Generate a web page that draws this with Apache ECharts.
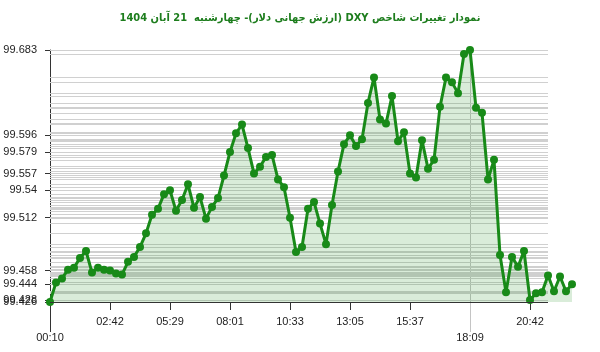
<!DOCTYPE html>
<html>
<head>
<meta charset="utf-8">
<script src="https://cdn.jsdelivr.net/npm/echarts@6/dist/echarts.min.js"></script>
<style>html,body{margin:0;padding:0;background:#fff}#c{width:600px;height:352px}</style>
</head>
<body>
<div id="c" dir="rtl"></div>
<script>
const titleText = 'نمودار تغییرات شاخص DXY (ارزش جهانی دلار)- چهارشنبه  21 آبان 1404';
const tickLabels = ['00:10','02:42','05:29','08:01','10:33','13:05','15:37','18:09','20:42'];
const values = [
  99.426, 99.446, 99.450, 99.459, 99.461, 99.471, 99.478, 99.456, 99.461, 99.459,
  99.458, 99.455, 99.454, 99.467, 99.472, 99.482, 99.496, 99.515, 99.521, 99.536,
  99.540, 99.519, 99.530, 99.546, 99.522, 99.533, 99.511, 99.523, 99.532, 99.555,
  99.579, 99.598, 99.607, 99.583, 99.557, 99.564, 99.574, 99.576, 99.551, 99.543,
  99.512, 99.477, 99.482, 99.521, 99.528, 99.506, 99.485, 99.525, 99.559, 99.587,
  99.596, 99.585, 99.592, 99.629, 99.655, 99.612, 99.608, 99.636, 99.590, 99.599,
  99.557, 99.553, 99.591, 99.562, 99.571, 99.625, 99.655, 99.650, 99.639, 99.679,
  99.683, 99.624, 99.619, 99.551, 99.571, 99.474, 99.436, 99.472, 99.462, 99.478,
  99.428, 99.435, 99.436, 99.453, 99.437, 99.452, 99.437, 99.444
];
const labelStep = 10;
const lowerRowIdx = [0, 70];   // labels placed on the second row
const peakIdx = 70;
const gridEndIdx = 83.3;       // horizontal guide lines stop here

const categories = values.map((_, i) => i);
const yMin = Math.min(...values);
const yMax = Math.max(...values);
const yLabelValues = [];
for (let i = 0; i < values.length; i += labelStep) yLabelValues.push(values[i]);
yLabelValues.push(values[values.length - 1]);
const gridValues = Array.from(new Set(values));

const chart = echarts.init(document.getElementById('c'), null, {renderer: 'canvas'});
const axisColor = '#333';
const font = 'Liberation Sans';

const hiddenAxis = (extra) => Object.assign({
  type: 'category', data: categories, boundaryGap: false,
  position: 'bottom', axisLine: {show: false}, axisLabel: {show: false},
  splitLine: {show: false}
}, extra);

const guideLines = gridValues.map(v => [{xAxis: 0, yAxis: v}, {xAxis: gridEndIdx, yAxis: v}]);
const baseLine = [[{xAxis: 0, yAxis: yMin}, {xAxis: gridEndIdx, yAxis: yMin}]];

chart.setOption({
  animation: false,
  title: {
    text: titleText, left: 'center', top: 8,
    textStyle: {fontFamily: 'DejaVu Sans Condensed', fontSize: 11, fontWeight: 'bold', color: '#1d7d1d'}
  },
  grid: {left: 50, right: 28, top: 50, bottom: 50, containLabel: false},
  xAxis: [
    {
      type: 'category', data: categories, boundaryGap: false,
      axisLine: {show: false},
      axisTick: {show: true, interval: labelStep - 1, length: 8, lineStyle: {color: axisColor}},
      axisLabel: {
        interval: labelStep - 1, margin: 12, fontSize: 11, lineHeight: 16,
        fontFamily: font, color: '#222',
        formatter: (v) => {
          const k = Number(v);
          const t = tickLabels[k / labelStep] || '';
          return lowerRowIdx.includes(k) ? '\n' + t : t;
        }
      },
      splitLine: {show: false}
    },
    hiddenAxis({
      axisTick: {show: true, interval: (i) => i === 0, length: 30, lineStyle: {color: axisColor}}
    }),
    hiddenAxis({
      axisTick: {show: true, interval: (i) => i === peakIdx, length: 30, lineStyle: {color: '#c4c4c4'}},
      splitLine: {show: true, interval: (i) => i === peakIdx, lineStyle: {color: '#c4c4c4', width: 1}}
    })
  ],
  yAxis: {
    type: 'value', min: yMin, max: yMax,
    axisLine: {show: true, lineStyle: {color: axisColor}},
    axisTick: {show: true, length: 5, customValues: yLabelValues, lineStyle: {color: axisColor}},
    axisLabel: {customValues: yLabelValues, margin: 13, fontSize: 11, fontFamily: font, color: '#222',
      formatter: (v) => String(v)},
    splitLine: {show: false}
  },
  series: [
    {
      type: 'line', data: values, z: 1, silent: true, symbol: 'none',
      lineStyle: {opacity: 0},
      markLine: {
        z: 1, silent: true, symbol: 'none', label: {show: false},
        lineStyle: {color: '#d0d0d0', width: 1, type: 'solid'},
        emphasis: {disabled: true},
        data: guideLines
      }
    },
    {
      type: 'line', data: values, z: 3,
      symbol: 'circle', symbolSize: 8, showAllSymbol: true,
      itemStyle: {color: '#188a18'},
      lineStyle: {color: '#188a18', width: 3, type: 'solid'},
      areaStyle: {color: 'rgba(40,150,40,0.25)'},
      markLine: {
        z: 4, silent: true, symbol: 'none', label: {show: false},
        lineStyle: {color: axisColor, width: 1, type: 'solid'},
        emphasis: {disabled: true},
        data: baseLine
      }
    }
  ]
});
</script>
</body>
</html>
